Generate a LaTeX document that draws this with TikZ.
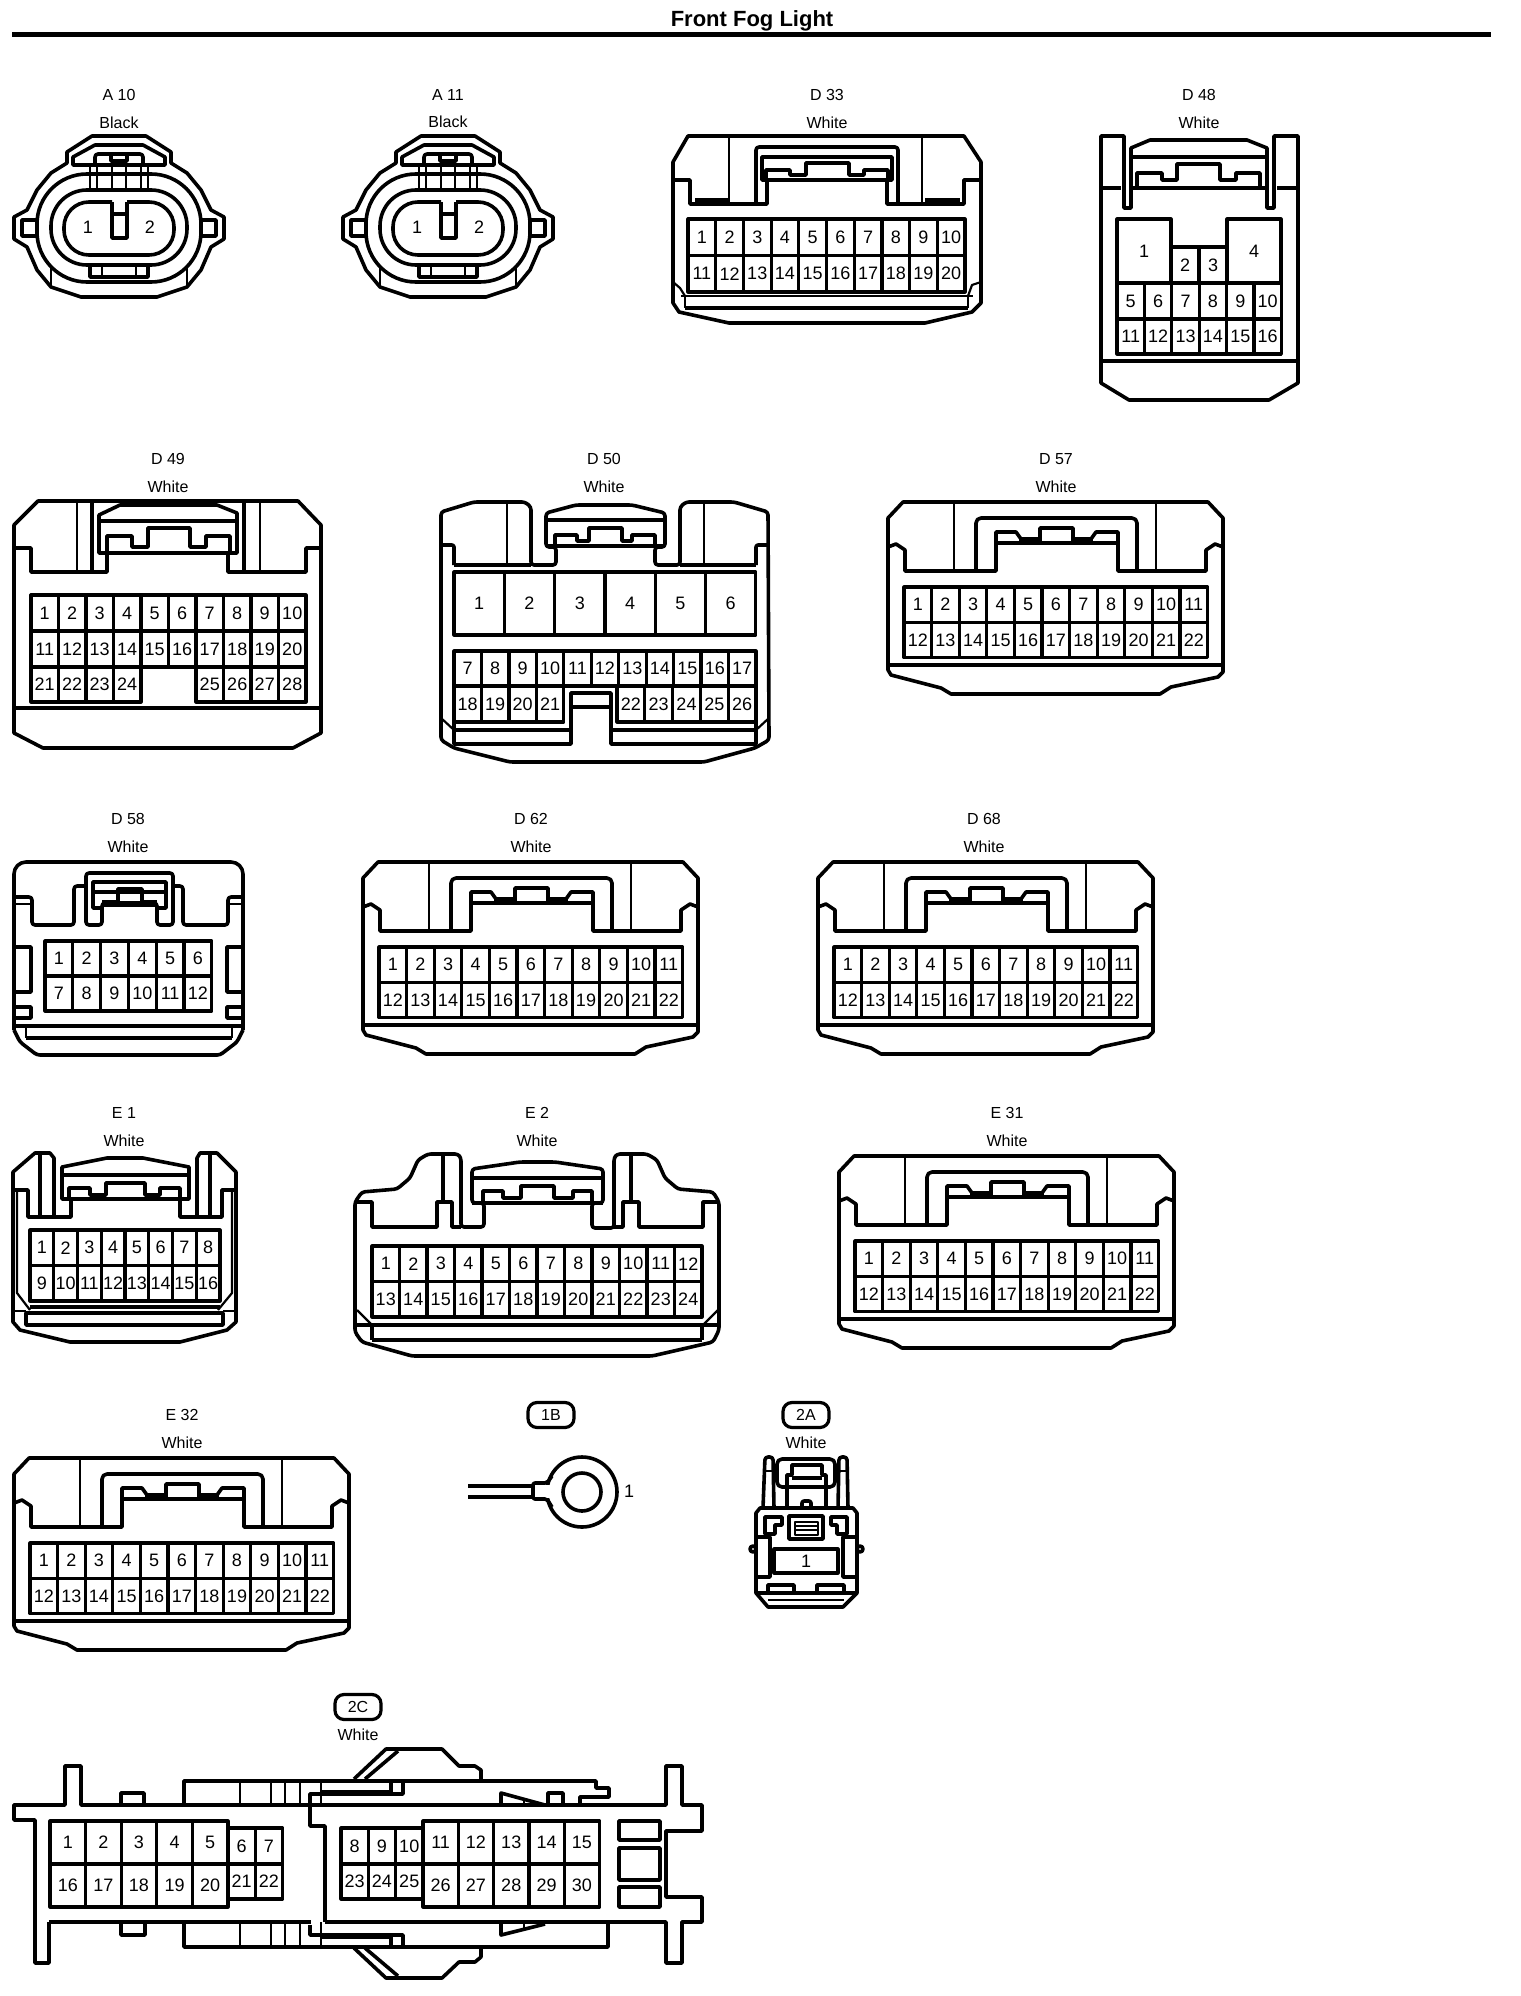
\documentclass[tikz,border=0pt]{standalone}
\usepackage{fontspec}
\setmainfont{Liberation Sans}
\usetikzlibrary{positioning}

\newcommand{\pinrow}[7]{\foreach \n [count=\k from 0] in {#6,...,#7}
  \node[pin,minimum width=#4pt,minimum height=#5pt] (#1-\n) at ({#2+\k*#4},#3) {\n};}

\begin{document}
\begin{tikzpicture}[x=1pt,y=-1pt,line join=round]
  \tikzstyle{pin}=[draw, line width=3.2pt, inner sep=0pt, outer sep=0pt, anchor=north west, font=\fontsize{18}{18}\selectfont]
  \tikzstyle{lab}=[inner sep=0pt, font=\fontsize{16}{16}\selectfont]
  \tikzstyle{pill}=[draw, line width=3.2pt, rounded corners=9pt, inner sep=0pt, minimum width=46pt, minimum height=25pt, font=\fontsize{16}{16}\selectfont]
  \tikzstyle{body}=[line width=3.6pt]
  \tikzstyle{thin line}=[line width=2.2pt]
  \path[use as bounding box,fill=white] (0,0) rectangle (1520,1996);

  \node[inner sep=0pt, font=\fontsize{22}{22}\selectfont\bfseries] (title) at (752,21) {Front Fog Light};
  \coordinate (ruleL) at (12,34.5);
  \coordinate (ruleR) at (1491,34.5);
  \draw[line width=5pt] (ruleL) -- (ruleR);

  \foreach \cx/\nm/\tag in {119/A10/A 10,448/A11/A 11}{
    \node[lab] (\nm t) at (\cx,95) {\tag};
    \node[lab] (\nm c) [below=15.5pt of \nm t] {Black};
    \begin{scope}[shift={(\cx,227)}]
      \draw[body] (-27,-91)--(27,-91)--(52,-75)--(52,-64)--(68,-54)--(82,-37)--(92,-17)--(105,-10)--(105,12)--(92,20)--(82,43)--(68,60)--(38,70)--(-38,70)--(-68,60)--(-82,43)--(-92,20)--(-105,12)--(-105,-10)--(-92,-17)--(-82,-37)--(-68,-54)--(-52,-64)--(-52,-75)--cycle;
      \draw[body] (-46,-62)--(-46,-70)--(-24,-82)--(24,-82)--(46,-70)--(46,-62)--cycle;
      \draw[body,rounded corners=3pt] (-24,-62)--(-24,-73)--(24,-73)--(24,-62);
      \draw[body] (-8,-73)--(-8,-66)--(8,-66)--(8,-73);
      \foreach \vx in {-29,-22,-7,7,22,29} \draw[thin line] (\vx,-62)--(\vx,-37);
      \draw[body,rounded corners=50pt] (-82,-53) rectangle (82,55);
      \draw[body,rounded corners=36pt] (-68,-37) rectangle (68,38);
      \draw[body,rounded corners=25pt] (-7,-25)--(-55,-25)--(-55,28)--(55,28)--(55,-25)--(8,-25);
      \draw[body] (-7,-25)--(-7,11)--(8,11)--(8,-25);
      \draw[body] (-7,-13)--(8,-13);
      \draw[body] (-97,-7) rectangle (-82,9);
      \draw[body] (82,-7) rectangle (97,9);
      \draw[body] (-29,39)--(-29,50)--(29,50)--(29,39);
      \draw[thin line] (-17,39)--(-17,50) (17,39)--(17,50);
      \draw[thin line] (-68,40)--(-68,60) (68,40)--(68,60);
      \node[inner sep=0pt,font=\fontsize{18}{18}\selectfont] (\nm p1) at (-31,0) {1};
      \node[inner sep=0pt,font=\fontsize{18}{18}\selectfont] (\nm p2) at (31,0) {2};
    \end{scope}
  }

  \node[lab] (D33t) at (827,95) {D 33};
  \node[lab] (D33c) [below=15.5pt of D33t] {White};
  \draw[body] (688,136)--(964,136)--(981,162)--(981,303)--(972,312)--(925,323)--(729,323)--(679,312)--(673,303)--(673,162)--cycle;
  \draw[body] (673,180)--(690,180)--(690,204)--(767,204)--(767,180);
  \draw[body] (887,180)--(887,204)--(964,204)--(964,180)--(981,180);
  \draw[body,rounded corners=3pt] (756,204)--(756,147)--(898,147)--(898,204);
  \draw[body] (762,180)--(762,157)--(892,157)--(892,180)--cycle;
  \draw[body] (766,180)--(766,170)--(790,170)--(790,175)--(806,175)--(806,163)--(849,163)--(849,175)--(864,175)--(864,170)--(888,170)--(888,180);
  \draw[thin line] (729,136)--(729,204) (922,136)--(922,204);
  \draw[body] (695,200)--(729,200) (925,200)--(960,200);
  \pinrow{D33}{688}{219}{27.7}{36.5}{1}{10}
  \pinrow{D33}{688}{255.5}{27.7}{36.5}{11}{20}
  \draw[body] (685,308)--(968,308);
  \draw[thin line] (681,296)--(973,296) (685,296)--(685,308) (968,296)--(968,308);
  \draw[thin line] (673,282)--(680,288)--(685,296) (981,282)--(972,285)--(968,296);

  \node[lab] (D48t) at (1199,95) {D 48};
  \node[lab] (D48c) [below=15.5pt of D48t] {White};
  \draw[body] (1124,208)--(1124,136)--(1101,136)--(1101,383)--(1129,400)--(1269,400)--(1298,383)--(1298,136)--(1274,136)--(1274,208)--(1267,208)--(1267,148)--(1247,140)--(1150,140)--(1131,148)--(1131,208)--cycle;
  \draw[body] (1131,157)--(1267,157);
  \draw[body] (1101,188)--(1121,188) (1133,188)--(1267,188) (1277,188)--(1298,188);
  \draw[body] (1137,187)--(1137,173)--(1162,173)--(1162,180)--(1177,180)--(1177,164)--(1220,164)--(1220,180)--(1236,180)--(1236,173)--(1260,173)--(1260,187);
  \draw[body] (1101,361)--(1298,361);
  \node[pin,minimum width=54pt,minimum height=64pt] (D48-1) at (1117,219) {1};
  \node[pin,minimum width=54pt,minimum height=64pt] (D48-4) at (1227,219) {4};
  \pinrow{D48}{1171}{247}{28}{36}{2}{3}
  \pinrow{D48}{1117}{283}{27.4}{36}{5}{10}
  \pinrow{D48}{1117}{319}{27.4}{35}{11}{16}

  \node[lab] (D49t) at (168,459) {D 49};
  \node[lab] (D49c) [below=15.5pt of D49t] {White};
  \draw[body] (38,501)--(298,501)--(321,525)--(321,733)--(293,748)--(43,748)--(14,733)--(14,525)--cycle;
  \draw[body] (14,548)--(31,548)--(31,572)--(107,572)--(107,553)--(99,553)--(99,515)--(120,505)--(217,505)--(237,513)--(237,553)--(228,553)--(228,572)--(306,572)--(306,548)--(321,548);
  \draw[body] (92,501)--(92,572) (244,501)--(244,572);
  \draw[thin line] (77,501)--(77,572) (260,501)--(260,572);
  \draw[body] (99,521)--(237,521) (99,553)--(237,553);
  \draw[body] (107,553)--(107,536)--(132,536)--(132,547)--(148,547)--(148,528)--(190,528)--(190,547)--(206,547)--(206,536)--(230,536)--(230,553);
  \draw[body] (14,708)--(321,708);
  \pinrow{D49}{31}{595}{27.5}{36}{1}{10}
  \pinrow{D49}{31}{631}{27.5}{36}{11}{20}
  \pinrow{D49}{31}{667}{27.5}{35}{21}{24}
  \pinrow{D49}{196}{667}{27.5}{35}{25}{28}

  \node[lab] (D50t) at (604,459) {D 50};
  \node[lab] (D50c) [below=15.5pt of D50t] {White};
  \draw[body,rounded corners=3pt] (441,512)--(474,502)--(525,502)--(531,507)--(531,565)--(556,565)--(556,547)--(546,547)--(546,513)--(576,505)--(632,505)--(665,513)--(665,547)--(655,547)--(655,565)--(680,565)--(680,507)--(686,502)--(734,502)--(768,512)--(769,740)--(755,748)--(704,762)--(510,762)--(454,748)--(441,740)--cycle;
  \draw[body] (454,565)--(531,565) (680,565)--(756,565);
  \draw[body,rounded corners=2pt] (441,545)--(454,545)--(454,565);
  \draw[body,rounded corners=2pt] (756,565)--(756,545)--(769,545);
  \draw[thin line] (507,502)--(507,565) (704,502)--(704,565);
  \draw[body] (546,520)--(665,520) (546,546)--(665,546);
  \draw[body] (555,546)--(555,535)--(577,535)--(577,541)--(589,541)--(589,528)--(622,528)--(622,541)--(632,541)--(632,535)--(655,535)--(655,546);
  \pinrow{D50}{454}{572}{50.3}{63}{1}{6}
  \pinrow{D50}{454}{651}{27.45}{35}{7}{17}
  \pinrow{D50}{454}{686}{27.45}{36}{18}{21}
  \pinrow{D50}{617}{686}{27.8}{36}{22}{26}
  \draw[body] (454,730)--(571,730)--(571,693)--(611,693)--(611,730)--(756,730);
  \draw[body] (571,707)--(611,707);
  \draw[body] (454,722)--(454,744)--(571,744)--(571,730) (756,722)--(756,744)--(611,744)--(611,730);
  \draw[thin line] (441,718)--(454,730) (769,718)--(756,730);

  \foreach \px/\py/\nm/\tag/\lx in {904/587/D57/D 57/152,379/947/D62/D 62/152,834/947/D68/D 68/150,855/1241/E31/E 31/152,30/1543/E32/E 32/152}{
    \begin{scope}[shift={(\px,\py)}]
      \node[lab] (\nm t) at (\lx,-128) {\tag};
      \node[lab] (\nm c) [below=15.5pt of \nm t] {White};
      \draw[body] (-1,-85)--(304,-85)--(319,-69)--(319,85)--(314,90)--(267,100)--(256,107)--(47,107)--(37,101)--(-13,88)--(-16,83)--(-16,-69)--cycle;
      \draw[body] (-16,-40)--(-8,-43)--(1,-37)--(1,-16)--(92,-16)--(92,-55)--(112,-55)--(117,-48)--(136,-48)--(136,-59)--(169,-59)--(169,-48)--(187,-48)--(192,-55)--(214,-55)--(214,-16)--(302,-16)--(302,-37)--(311,-43)--(319,-40);
      \draw[body] (92,-44)--(214,-44);
      \draw[body] (117,-48)--(117,-44) (187,-48)--(187,-44) (136,-48)--(136,-44) (169,-48)--(169,-44);
      \draw[thin line,rounded corners=4pt] (50,-16)--(50,-85) (252,-85)--(252,-16);
      \draw[body,rounded corners=5pt] (72,-16)--(72,-69)--(233,-69)--(233,-16);
      \pinrow{\nm}{0}{0}{27.6}{35.3}{1}{11}
      \pinrow{\nm}{0}{35.3}{27.6}{35.3}{12}{22}
      \draw[body] (-16,78)--(319,78);
    \end{scope}
  }

  \node[lab] (D58t) at (128,819) {D 58};
  \node[lab] (D58c) [below=15.5pt of D58t] {White};
  \draw[body,rounded corners=12pt] (14,1030)--(14,862)--(243,862)--(243,1030);
  \draw[body,rounded corners=3pt] (14,1030)--(20,1042)--(37,1055)--(220,1055)--(237,1042)--(243,1030);
  \draw[body,rounded corners=3pt] (14,897)--(32,897)--(32,925)--(74,925)--(74,886)--(86,886);
  \draw[body,rounded corners=3pt] (243,897)--(228,897)--(228,925)--(183,925)--(183,886)--(173,886);
  \draw[body,rounded corners=3pt] (86,873)--(173,873)--(173,925)--(157,925)--(157,903)--(102,903)--(102,925)--(86,925)--cycle;
  \draw[body] (102,908)--(93,908)--(93,882)--(166,882)--(166,908)--(157,908);
  \draw[body] (93,892)--(166,892);
  \draw[body] (102,902)--(118,902)--(118,889)--(142,889)--(142,902)--(157,902);
  \draw[thin line] (14,904)--(32,904) (228,904)--(243,904) (102,906)--(157,906);
  \draw[body] (14,947)--(31,947)--(31,992)--(14,992) (14,1007)--(31,1007)--(31,1018)--(14,1018);
  \draw[body] (243,947)--(227,947)--(227,992)--(243,992) (243,1007)--(227,1007)--(227,1018)--(243,1018);
  \pinrow{D58}{45}{941}{27.8}{35}{1}{6}
  \pinrow{D58}{45}{976}{27.8}{35}{7}{12}
  \draw[body] (14,1026)--(243,1026) (26,1038)--(232,1038);
  \draw[thin line] (26,1026)--(26,1038) (232,1026)--(232,1038);

  \node[lab] (E1t) at (124,1113) {E 1};
  \node[lab] (E1c) [below=15.5pt of E1t] {White};
  \draw[body] (13,1172)--(35,1153)--(50,1153)--(54,1158)--(54,1217)--(71,1217)--(71,1199)--(62,1199)--(62,1167)--(107,1158)--(143,1158)--(189,1167)--(189,1199)--(180,1199)--(180,1217)--(197,1217)--(197,1158)--(200,1153)--(217,1153)--(236,1172)--(236,1322)--(227,1330)--(180,1342)--(70,1342)--(20,1330)--(13,1322)--cycle;
  \draw[body] (13,1190)--(28,1190)--(28,1217)--(54,1217) (236,1190)--(222,1190)--(222,1217)--(197,1217);
  \draw[body] (40,1153)--(40,1217) (210,1153)--(210,1217);
  \draw[thin line] (17,1190)--(17,1293)--(30,1310) (232,1190)--(232,1293)--(218,1310);
  \draw[body] (62,1175)--(189,1175) (62,1199)--(189,1199);
  \draw[body] (69,1199)--(69,1188)--(90,1188)--(90,1195)--(106,1195)--(106,1183)--(145,1183)--(145,1195)--(160,1195)--(160,1188)--(180,1188)--(180,1199);
  \pinrow{E1}{30}{1230}{23.75}{35.5}{1}{8}
  \pinrow{E1}{30}{1265.5}{23.75}{35.5}{9}{16}
  \draw[body] (30,1307)--(220,1307);
  \draw[body] (26,1313) rectangle (223,1325);
  \draw[thin line] (13,1311)--(26,1311) (223,1311)--(236,1311);

  \node[lab] (E2t) at (537,1113) {E 2};
  \node[lab] (E2c) [below=15.5pt of E2t] {White};
  \draw[body,rounded corners=3pt] (355,1202)--(362,1192)--(397,1189)--(410,1178)--(418,1160)--(428,1154)--(458,1154)--(461,1158)--(461,1227)--(484,1227)--(484,1203)--(472,1203)--(472,1169)--(520,1162)--(555,1162)--(603,1169)--(603,1203)--(592,1203)--(592,1228)--(614,1228)--(614,1158)--(617,1154)--(647,1154)--(657,1160)--(665,1178)--(678,1189)--(713,1192)--(719,1202)--(719,1330)--(713,1342)--(652,1356)--(412,1356)--(362,1342)--(355,1332)--cycle;
  \draw[body] (355,1202)--(372,1202)--(372,1227)--(437,1227)--(437,1202)--(452,1202)--(452,1227)--(461,1227);
  \draw[body] (614,1227)--(623,1227)--(623,1202)--(639,1202)--(639,1227)--(703,1227)--(703,1202)--(719,1202);
  \draw[body] (443,1154)--(443,1202) (631,1154)--(631,1202);
  \draw[body] (472,1178)--(603,1178) (472,1203)--(603,1203);
  \draw[body] (483,1203)--(483,1191)--(503,1191)--(503,1198)--(521,1198)--(521,1186)--(554,1186)--(554,1198)--(573,1198)--(573,1191)--(592,1191)--(592,1203);
  \pinrow{E2}{372}{1246}{27.5}{35.5}{1}{12}
  \pinrow{E2}{372}{1281.5}{27.5}{35.5}{13}{24}
  \draw[body] (355,1325)--(719,1325) (372,1340)--(702,1340) (372,1325)--(372,1340) (702,1325)--(702,1340);
  \draw[thin line] (357,1310)--(372,1325) (718,1310)--(703,1325);

  \node[pill] (P1B) at (551,1415) {1B};
  \coordinate (wireA) at (468,1486);
  \coordinate (wireB) at (468,1497);
  \draw[body] (wireA)--(533,1486) (wireB)--(533,1497);
  \draw[body] (582,1492) circle [radius=35];
  \draw[body] (582,1492) circle [radius=19];
  \fill[white] (544,1485) rectangle (551,1498);
  \draw[body,rounded corners=2pt] (552,1476)--(547,1483)--(533,1483)--(533,1499)--(547,1499)--(552,1507);
  \node[inner sep=0pt,font=\fontsize{18}{18}\selectfont] (P1Bp) at (629,1491) {1};

  \node[pill] (P2A) at (806,1415) {2A};
  \node[lab] (P2Ac) at (806,1443) {White};
  \draw[body] (756,1513)--(760,1508)--(853,1508)--(857,1513)--(857,1593)--(843,1607)--(768,1607)--(756,1593)--cycle;
  \draw[body,rounded corners=3pt] (763,1508)--(765,1457)--(773,1457)--(774,1508);
  \draw[body,rounded corners=3pt] (838,1508)--(839,1457)--(847,1457)--(848,1508);
  \draw[thin line] (765,1471)--(773,1471) (839,1471)--(847,1471);
  \draw[body,rounded corners=5pt] (777,1459)--(835,1459)--(835,1487)--(777,1487)--cycle;
  \draw[body] (787,1508)--(787,1475)--(792,1475)--(792,1465)--(822,1465)--(822,1475)--(826,1475)--(826,1508);
  \draw[body] (792,1478)--(822,1478);
  \draw[body,rounded corners=2pt] (802,1508)--(802,1501)--(811,1501)--(811,1508);
  \draw[body] (789,1516) rectangle (823,1539);
  \draw[thin line] (795,1522) rectangle (818,1535) (795,1526)--(818,1526) (795,1530)--(818,1530);
  \draw[body] (765,1517)--(782,1517)--(782,1525)--(775,1525)--(775,1534)--(765,1534)--cycle;
  \draw[body] (847,1517)--(831,1517)--(831,1525)--(837,1525)--(837,1534)--(847,1534)--cycle;
  \draw[body] (756,1537)--(770,1537)--(770,1577)--(756,1577);
  \draw[body] (857,1537)--(843,1537)--(843,1577)--(857,1577);
  \draw[body] (753,1549) circle [radius=3];
  \draw[body] (860,1549) circle [radius=3];
  \node[pin,minimum width=64pt,minimum height=24pt] (P2Ap) at (774,1549) {1};
  \draw[body] (768,1593)--(768,1585)--(794,1585)--(794,1593) (817,1593)--(817,1585)--(844,1585)--(844,1593);
  \draw[body] (756,1593)--(857,1593);
  \draw[thin line] (768,1600)--(844,1600);

  \node[pill] (P2C) at (358,1707) {2C};
  \node[lab] (P2Cc) at (358,1735) {White};
  \draw[body] (49,1922)--(49,1963)--(35,1963)--(35,1820)--(14,1820)--(14,1805)--(65,1805)--(65,1766)--(81,1766)--(81,1805)--(666,1805)--(666,1766)--(682,1766)--(682,1805)--(702,1805)--(702,1831)--(666,1831)--(666,1897)--(702,1897)--(702,1922)--(682,1922)--(682,1963)--(666,1963)--(666,1922)--(325,1922);
  \draw[body] (49,1922)--(311,1922);
  \draw[body] (121,1805)--(121,1793)--(144,1793)--(144,1805);
  \draw[body] (121,1922)--(121,1935)--(145,1935)--(145,1922);
  \draw[body] (184,1805)--(184,1781)--(596,1781)--(596,1788)--(609,1788)--(609,1797)--(580,1797)--(580,1805);
  \draw[body] (184,1922)--(184,1947)--(608,1947)--(608,1922);
  \foreach \vx in {240,271,285,300,321}{
    \draw[thin line] (\vx,1781)--(\vx,1805);
    \draw[thin line] (\vx,1922)--(\vx,1947);
  }
  \draw[body] (403,1783)--(403,1794)--(310,1794)--(310,1826)--(325,1826)--(325,1922);
  \draw[body] (321,1792)--(391,1792)--(391,1781);
  \draw[body] (310,1925)--(310,1935)--(403,1935)--(403,1947);
  \draw[body] (321,1937)--(391,1937)--(391,1947);
  \draw[body] (354,1779)--(386,1749)--(442,1749)--(459,1766)--(475,1766)--(481,1770)--(481,1781);
  \draw[body] (365,1779)--(398,1751);
  \draw[body] (354,1948)--(386,1978)--(442,1978)--(459,1962)--(475,1962)--(481,1957)--(481,1947);
  \draw[body] (365,1948)--(398,1976);
  \draw[body] (501,1805)--(501,1793)--(545,1805);
  \draw[body] (548,1805)--(548,1793)--(563,1793)--(563,1805);
  \draw[thin line] (524,1800)--(524,1805) (524,1922)--(524,1928);
  \draw[body] (501,1922)--(501,1935)--(545,1924);
  \draw[body] (619,1821) rectangle (660,1840);
  \draw[body] (619,1848) rectangle (660,1880);
  \draw[body] (619,1887) rectangle (660,1907);
  \pinrow{P2C}{50}{1821}{35.6}{43}{1}{5}
  \pinrow{P2C}{228}{1828}{27.3}{36}{6}{7}
  \pinrow{P2C}{341}{1828}{27.3}{36}{8}{10}
  \pinrow{P2C}{423}{1821}{35.3}{43}{11}{15}
  \pinrow{P2C}{50}{1864}{35.6}{43}{16}{20}
  \pinrow{P2C}{228}{1864}{27.3}{35}{21}{22}
  \pinrow{P2C}{341}{1864}{27.3}{35}{23}{25}
  \pinrow{P2C}{423}{1864}{35.3}{43}{26}{30}
\end{tikzpicture}
\end{document}
